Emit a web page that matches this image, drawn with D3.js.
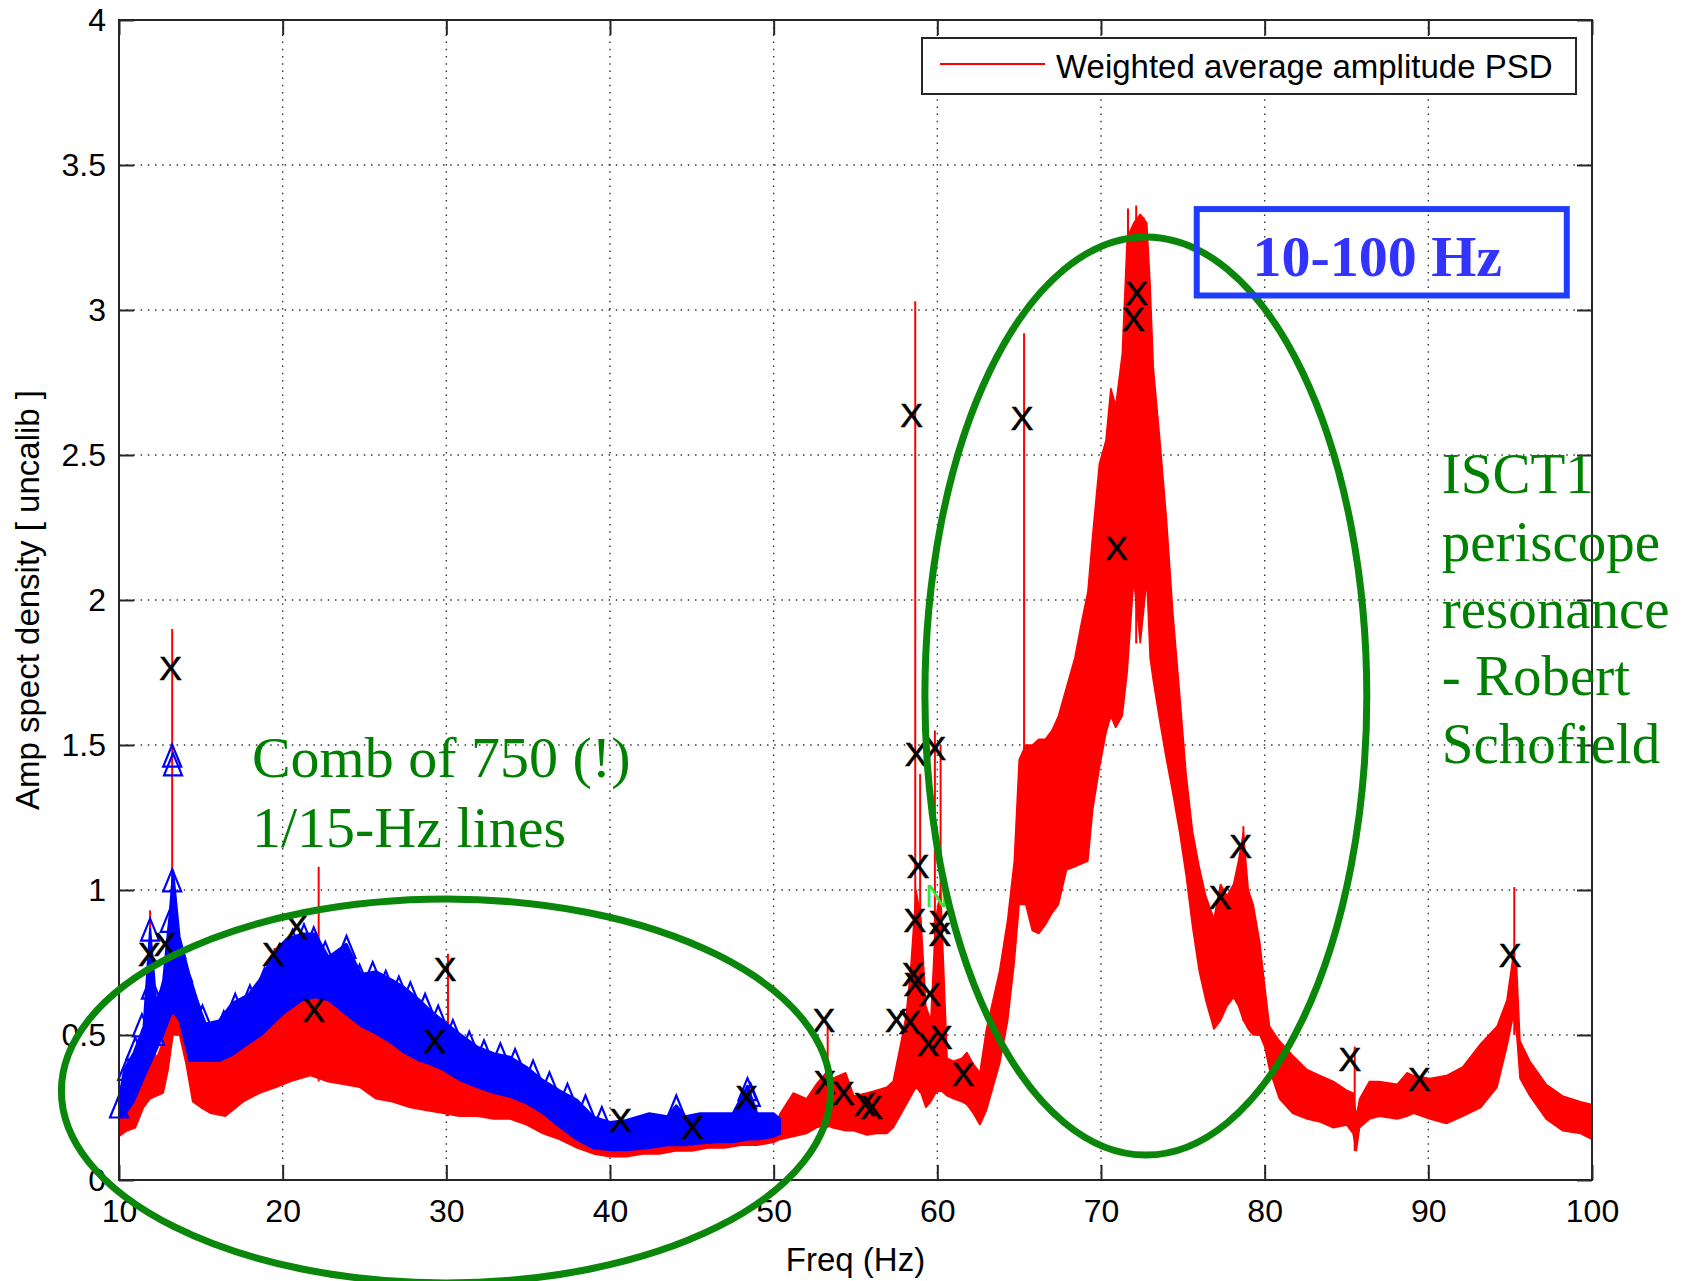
<!DOCTYPE html>
<html>
<head>
<meta charset="utf-8">
<script src="https://cdn.jsdelivr.net/npm/d3@7"></script>
<style>
  body { margin: 0; background: #fff; }
  svg { display: block; font-family: "Liberation Sans", Arial, sans-serif; }
</style>
</head>
<body>
<svg width="1690" height="1281"></svg>
<script>
'use strict';
(() => {

// weighted average amplitude PSD, read as a band (low / high envelope)
var redFreq = [10.0,10.5,11.0,11.5,11.9,12.3,12.7,13.0,13.3,13.7,14.1,14.5,15.0,15.6,16.5,17.6,18.6,19.6,20.5,21.7,22.7,23.7,24.7,25.7,26.7,27.8,28.8,29.8,30.8,31.9,32.9,33.9,34.9,35.9,36.9,38.0,39.0,40.0,41.0,42.0,43.0,44.0,45.0,46.0,47.0,48.0,49.0,50.0,50.4,51.2,52.0,52.6,53.2,53.6,54.4,54.9,55.7,56.3,56.9,57.3,57.8,58.1,58.4,58.7,59.0,59.3,59.6,59.9,60.2,60.6,61.0,61.5,61.8,62.2,62.6,63.0,63.8,64.3,64.7,65.0,65.4,65.8,66.2,66.6,67.0,67.4,67.9,68.4,68.8,69.2,69.5,69.9,70.3,70.6,70.9,71.3,71.6,72.0,72.4,72.8,73.0,73.2,73.6,74.0,74.4,74.8,75.2,75.6,76.0,76.4,76.9,77.3,77.7,78.1,78.4,78.7,79.0,79.3,79.7,80.0,80.3,80.9,81.7,82.6,83.4,84.2,85.0,85.4,85.6,85.8,86.4,87.0,88.1,88.7,89.1,90.1,91.1,92.1,93.2,94.2,94.8,95.2,95.4,95.6,96.2,97.2,98.2,99.3,100.0];
var redLow = [.15,.17,.18,.25,.28,.29,.30,.38,.50,.50,.40,.27,.25,.23,.22,.27,.30,.32,.34,.36,.34,.33,.32,.28,.27,.25,.24,.23,.22,.22,.21,.21,.19,.16,.14,.11,.09,.08,.08,.09,.09,.10,.10,.11,.11,.12,.12,.13,.14,.15,.16,.18,.19,.18,.17,.17,.155,.16,.16,.18,.23,.26,.29,.32,.30,.25,.27,.30,.31,.29,.28,.27,.26,.23,.19,.24,.40,.55,.75,.95,.95,.86,.85,.88,.92,.95,1.07,1.08,1.09,1.10,1.28,1.42,1.54,1.60,1.56,1.60,1.75,2.07,1.85,2.07,1.80,1.72,1.58,1.45,1.33,1.20,1.05,.87,.72,.62,.52,.55,.60,.63,.60,.55,.52,.50,.50,.46,.38,.28,.23,.21,.20,.18,.19,.16,.10,.18,.21,.22,.21,.22,.23,.21,.195,.22,.25,.32,.46,.57,.50,.35,.29,.21,.17,.16,.14];
var redHigh = [.26,.30,.38,.45,.50,.42,.48,.60,.70,.65,.60,.50,.45,.44,.45,.47,.52,.56,.60,.64,.64,.62,.58,.53,.50,.45,.42,.40,.37,.34,.31,.30,.28,.25,.21,.17,.14,.13,.12,.13,.13,.14,.14,.15,.15,.16,.17,.18,.23,.30,.28,.33,.37,.35,.37,.29,.30,.31,.32,.34,.48,.57,.75,1.0,.90,.60,.55,.90,1.0,.42,.41,.42,.44,.40,.37,.52,.72,.90,1.10,1.45,1.50,1.50,1.52,1.52,1.55,1.60,1.70,1.80,1.92,2.03,2.23,2.47,2.55,2.73,2.67,2.85,3.25,3.30,3.33,3.30,3.09,2.80,2.55,2.28,1.95,1.68,1.40,1.20,1.08,.98,.90,1.02,.98,1.02,1.10,1.20,1.00,.95,.82,.67,.53,.48,.43,.38,.36,.34,.31,.30,.22,.28,.34,.34,.33,.37,.36,.35,.36,.39,.47,.53,.62,.78,.73,.48,.41,.33,.29,.27,.26];

// narrow lines standing out of the red band
var spikeFreq = [11.9,13.25,19.5,22.2,30.1,48.4,53.3,58.65,58.95,59.85,60.2,65.3,71.65,72.15,72.6,78.7,85.5,95.25];
var spikeTop = [.93,1.90,.80,1.08,.78,.30,.53,3.03,1.40,1.55,1.50,2.92,3.35,3.36,3.32,1.22,.46,1.01];

// comb of 1/15 Hz lines (blue), low / high envelope
var combFreq = [10.0,10.3,10.9,11.5,11.9,12.3,12.7,13.1,13.3,13.7,14.3,14.9,15.3,16.1,16.9,17.9,18.7,19.6,20.2,21.2,22.0,22.8,23.9,24.8,25.7,26.7,27.4,28.4,29.0,29.8,30.8,31.9,32.9,33.9,34.9,35.9,36.9,38.0,39.0,40.0,41.0,42.4,43.5,44.05,44.6,45.5,46.5,47.5,48.4,49.0,50.0,50.4];
var combLow = [.22,.22,.27,.35,.40,.45,.50,.56,.58,.55,.41,.41,.41,.41,.43,.47,.50,.55,.58,.62,.63,.62,.57,.53,.505,.47,.44,.41,.40,.38,.345,.32,.30,.287,.264,.23,.184,.138,.109,.103,.103,.11,.12,.12,.12,.126,.13,.13,.14,.14,.149,.16];
var combHigh = [.28,.38,.44,.53,.87,.60,.69,.92,1.07,.84,.71,.60,.54,.55,.61,.64,.70,.79,.83,.85,.85,.77,.815,.71,.72,.69,.666,.62,.586,.55,.505,.46,.437,.425,.39,.345,.31,.276,.218,.20,.207,.23,.22,.258,.22,.23,.23,.23,.327,.23,.23,.21];

// triangle markers of the comb
var triFreq = [10.0,10.5,11.0,11.4,11.9,11.95,12.2,12.6,13.1,13.25,13.25,13.3,13.5,13.9,14.4,15.1,16.4,17.1,18.0,18.9,19.8,20.6,21.3,21.9,22.6,23.9,24.7,25.5,26.3,27.1,27.8,28.7,29.5,30.4,31.4,32.3,33.3,34.2,35.3,36.3,37.4,38.5,39.5,44.05,48.4,48.6];
var triAmp = [.25,.38,.45,.53,.86,.66,.50,.62,.89,1.03,1.46,1.43,.80,.72,.63,.56,.54,.60,.63,.69,.77,.82,.84,.83,.78,.80,.70,.71,.68,.66,.64,.60,.56,.51,.47,.44,.43,.41,.37,.33,.29,.25,.21,.25,.31,.29];

// picked peaks (X)
var peakFreq = [13.16,11.85,12.81,19.43,20.85,21.91,29.92,29.3,40.65,45.04,48.34,53.07,53.13,54.25,55.57,55.98,57.5,58.32,58.42,58.7,59.85,58.83,58.63,60.15,60.15,58.52,58.63,59.54,59.44,60.25,61.58,65.18,70.95,71.97,72.17,77.27,78.53,85.21,89.45,94.99];
var peakAmp = [1.765,.78,.815,.78,.873,.586,.73,.48,.207,.184,.287,.551,.339,.30,.264,.253,.551,.545,2.64,1.47,1.49,1.085,.896,.89,.85,.712,.678,.643,.471,.494,.368,2.63,2.18,2.97,3.06,.976,1.154,.419,.35,.775];

var xTicks = [10,20,30,40,50,60,70,80,90,100];
var yTicks = [0,0.5,1,1.5,2,2.5,3,3.5,4];
var yTickLabels = ['0','0.5','1','1.5','2','2.5','3','3.5','4'];

var x = d3.scaleLinear().domain([10, 100]).range([119, 1592]);
var y = d3.scaleLinear().domain([0, 4]).range([1180, 20]);
var svg = d3.select('svg');
var GRID = '#333';
var INK = '#262626';

// grid
var grid = svg.append('g');
grid.selectAll('.gx').data(xTicks.slice(1, -1)).enter().append('line')
  .attr('x1', d => x(d)).attr('x2', d => x(d))
  .attr('y1', y(4)).attr('y2', y(0));
grid.selectAll('.gy').data(yTicks.slice(1, -1)).enter().append('line')
  .attr('x1', x(10)).attr('x2', x(100))
  .attr('y1', d => y(d)).attr('y2', d => y(d));
grid.selectAll('line')
  .attr('stroke', GRID).attr('stroke-width', 1.4)
  .attr('stroke-dasharray', '1.5,5.7');

svg.append('clipPath').attr('id', 'plot').append('rect')
  .attr('x', x(10)).attr('y', y(4))
  .attr('width', x(100) - x(10)).attr('height', y(0) - y(4));

var data = svg.append('g').attr('clip-path', 'url(#plot)');

// red band
var red = redFreq.map((f, i) => ({f: f, lo: redLow[i], hi: redHigh[i]}));
data.append('path').datum(red)
  .attr('d', d3.area().x(d => x(d.f)).y0(d => y(d.lo)).y1(d => y(d.hi)))
  .attr('fill', '#ff0000').attr('stroke', '#ff0000').attr('stroke-width', 1.5)
  .attr('stroke-linejoin', 'bevel');

var lowAt = f => {
  var i = d3.bisectLeft(redFreq, f);
  return redLow[Math.min(i, redLow.length - 1)];
};
data.selectAll('.spike').data(spikeFreq).enter().append('line')
  .attr('x1', d => x(d)).attr('x2', d => x(d))
  .attr('y1', d => y(lowAt(d)))
  .attr('y2', (d, i) => y(spikeTop[i]))
  .attr('stroke', '#ff0000').attr('stroke-width', 2);

// blue comb
var comb = combFreq.map((f, i) => ({f: f, lo: combLow[i], hi: combHigh[i]}));
svg.append('path').datum(comb)
  .attr('d', d3.area().x(d => x(d.f)).y0(d => y(d.lo)).y1(d => y(d.hi)))
  .attr('fill', '#0000ff').attr('stroke', '#0000ff').attr('stroke-width', 2)
  .attr('stroke-linejoin', 'bevel');

var tri = {
  draw: (ctx, size) => {
    var h = Math.sqrt(size);
    ctx.moveTo(0, -h * 0.6);
    ctx.lineTo(h * 0.45, h * 0.5);
    ctx.lineTo(-h * 0.45, h * 0.5);
    ctx.closePath();
  }
};
svg.selectAll('.tri').data(triFreq).enter().append('path')
  .attr('transform', (d, i) => `translate(${x(d)},${y(triAmp[i])})`)
  .attr('d', d3.symbol(tri, 400))
  .attr('fill', 'none').attr('stroke', '#0000ff').attr('stroke-width', 2.2);

// peak labels
svg.selectAll('.pk').data(peakFreq).enter().append('text')
  .attr('x', d => x(d)).attr('y', (d, i) => y(peakAmp[i]))
  .attr('dy', '0.36em').attr('text-anchor', 'middle')
  .attr('font-size', 34).attr('fill', '#000')
  .attr('stroke', '#000').attr('stroke-width', 0.6)
  .text('X');
svg.append('text')
  .attr('x', x(59.95)).attr('y', y(0.982)).attr('dy', '0.36em')
  .attr('text-anchor', 'middle').attr('font-size', 32)
  .attr('fill', '#33e633').text('N');

// axes
var fmtY = d => yTickLabels[yTicks.indexOf(d)];
var axB = svg.append('g').attr('transform', `translate(0,${y(0)})`)
  .call(d3.axisBottom(x).tickValues(xTicks).tickSizeInner(-15).tickSizeOuter(0).tickPadding(19));
var axL = svg.append('g').attr('transform', `translate(${x(10)},0)`)
  .call(d3.axisLeft(y).tickValues(yTicks).tickFormat(fmtY).tickSizeInner(-15).tickSizeOuter(0).tickPadding(13));
var axT = svg.append('g').attr('transform', `translate(0,${y(4)})`)
  .call(d3.axisTop(x).tickValues(xTicks).tickFormat('').tickSizeInner(-15).tickSizeOuter(0));
var axR = svg.append('g').attr('transform', `translate(${x(100)},0)`)
  .call(d3.axisRight(y).tickValues(yTicks).tickFormat('').tickSizeInner(-15).tickSizeOuter(0));
[axB, axL, axT, axR].forEach(g => {
  g.attr('font-family', null).attr('font-size', null);
  g.select('.domain').remove();
  g.selectAll('line').attr('stroke', INK).attr('stroke-width', 2);
  g.selectAll('text').attr('font-size', 32).attr('fill', '#000');
});

svg.append('rect')
  .attr('x', x(10)).attr('y', y(4))
  .attr('width', x(100) - x(10)).attr('height', y(0) - y(4))
  .attr('fill', 'none').attr('stroke', INK).attr('stroke-width', 2);

svg.append('text')
  .attr('x', (x(10) + x(100)) / 2).attr('y', 1271)
  .attr('text-anchor', 'middle').attr('font-size', 33)
  .text('Freq (Hz)');
svg.append('text')
  .attr('transform', `translate(39,${(y(0) + y(4)) / 2}) rotate(-90)`)
  .attr('text-anchor', 'middle').attr('font-size', 33)
  .text('Amp spect density [ uncalib ]');

// legend
var leg = svg.append('g');
leg.append('rect').attr('x', 922).attr('y', 38).attr('width', 654).attr('height', 56)
  .attr('fill', '#fff').attr('stroke', INK).attr('stroke-width', 2);
leg.append('line').attr('x1', 940).attr('x2', 1045).attr('y1', 64).attr('y2', 64)
  .attr('stroke', '#ff0000').attr('stroke-width', 2);
leg.append('text').attr('x', 1056).attr('y', 78).attr('font-size', 33)
  .text('Weighted average amplitude PSD');

// annotations
var note = svg.append('g');
note.append('ellipse')
  .attr('cx', x(29.98)).attr('cy', y(0.307))
  .attr('rx', x(23.5) - x(0)).attr('ry', y(0) - y(0.662))
  .attr('fill', 'none').attr('stroke', '#0a870a').attr('stroke-width', 7);
note.append('ellipse')
  .attr('cx', x(72.74)).attr('cy', y(1.669))
  .attr('rx', x(13.5) - x(0)).attr('ry', y(0) - y(1.583))
  .attr('fill', 'none').attr('stroke', '#0a870a').attr('stroke-width', 7);
note.append('rect')
  .attr('x', x(75.85)).attr('y', y(3.348))
  .attr('width', x(98.46) - x(75.85)).attr('height', y(3.05) - y(3.348))
  .attr('fill', 'none').attr('stroke', '#1f3cff').attr('stroke-width', 6);
note.append('text')
  .attr('x', x(79.25)).attr('y', y(3.118))
  .attr('font-family', '"Liberation Serif", "Times New Roman", serif')
  .attr('font-weight', 'bold').attr('font-size', 58).attr('fill', '#3333ff')
  .text('10-100 Hz');

var serif = '"Liberation Serif", "Times New Roman", serif';
var comb1 = ['Comb of 750 (!)', '1/15-Hz lines'];
var comb1Amp = [1.39, 1.149];
note.selectAll('.c1').data(comb1).enter().append('text')
  .attr('x', x(18.12)).attr('y', (d, i) => y(comb1Amp[i]))
  .attr('font-family', serif).attr('font-size', 58).attr('fill', '#008000')
  .text(d => d);

var isct = ['ISCT1', 'periscope', 'resonance', '- Robert', 'Schofield'];
var isctAmp = [2.369, 2.135, 1.905, 1.671, 1.437];
note.selectAll('.c2').data(isct).enter().append('text')
  .attr('x', x(90.82)).attr('y', (d, i) => y(isctAmp[i]))
  .attr('font-family', serif).attr('font-size', 57).attr('fill', '#008000')
  .text(d => d);

})();
</script>
</body>
</html>
